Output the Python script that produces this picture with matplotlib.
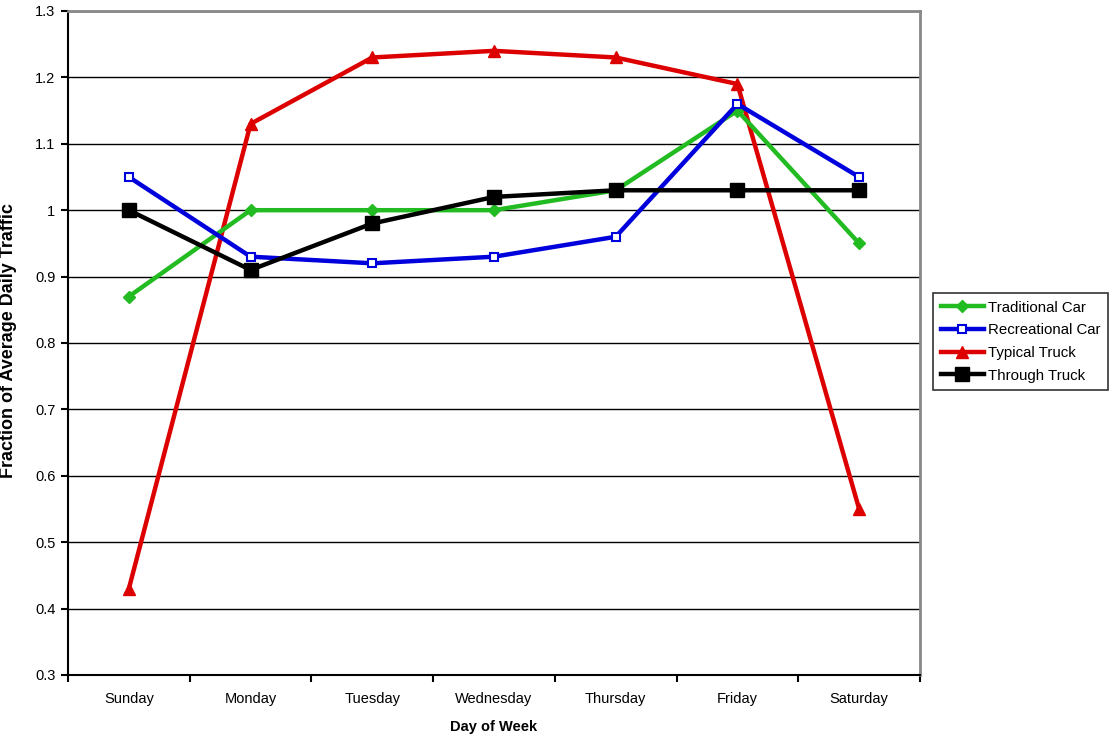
import matplotlib
matplotlib.use("Agg")
import matplotlib.pyplot as plt
from matplotlib.ticker import FixedLocator

days = ["Sunday", "Monday", "Tuesday", "Wednesday", "Thursday", "Friday", "Saturday"]
traditional_car = [0.87, 1.00, 1.00, 1.00, 1.03, 1.15, 0.95]
recreational_car = [1.05, 0.93, 0.92, 0.93, 0.96, 1.16, 1.05]
typical_truck = [0.43, 1.13, 1.23, 1.24, 1.23, 1.19, 0.55]
through_truck = [1.00, 0.91, 0.98, 1.02, 1.03, 1.03, 1.03]
y_ticks = [0.3, 0.4, 0.5, 0.6, 0.7, 0.8, 0.9, 1.0, 1.1, 1.2, 1.3]
y_tick_labels = ["0.3", "0.4", "0.5", "0.6", "0.7", "0.8", "0.9", "1", "1.1", "1.2", "1.3"]

plt.rcParams['font.family'] = ['Liberation Sans', 'DejaVu Sans']

fig = plt.figure(figsize=(11.12, 7.38), dpi=100)
ax = fig.add_axes([68/1112, 63/738, (920-68)/1112, (675-11)/738])

x = list(range(len(days)))
ax.plot(x, traditional_car, color="#22bb22", lw=3.2, marker="D", ms=6, mfc="#22bb22", mec="#22bb22",
        label="Traditional Car", zorder=3)
ax.plot(x, recreational_car, color="#0000dd", lw=3.2, marker="s", ms=6, mfc="white", mec="#0000dd", mew=1.5,
        label="Recreational Car", zorder=4)
ax.plot(x, typical_truck, color="#dd0000", lw=3.2, marker="^", ms=8, mfc="#dd0000", mec="#dd0000",
        label="Typical Truck", zorder=2)
ax.plot(x, through_truck, color="black", lw=3.2, marker="s", ms=10, mfc="black", mec="black",
        label="Through Truck", zorder=5)

ax.set_xlim(-0.5, len(days) - 0.5)
ax.set_ylim(0.3, 1.3)
ax.set_yticks(y_ticks)
ax.set_yticklabels(y_tick_labels)
ax.set_xticks(x)
ax.set_xticklabels(days)
ax.xaxis.set_minor_locator(FixedLocator([i - 0.5 for i in range(len(days) + 1)]))
ax.tick_params(axis="x", which="major", length=0, pad=12, labelsize=10.5)
ax.tick_params(axis="x", which="minor", length=5, width=1.5, direction="out", color="black")
ax.tick_params(axis="y", which="major", length=5, width=1.5, direction="out", labelsize=10.5, pad=4)

ax.yaxis.grid(True, color="black", lw=1)
ax.set_axisbelow(True)
for s in ["left", "bottom"]:
    ax.spines[s].set_color("black")
    ax.spines[s].set_linewidth(1.5)
for s in ["top", "right"]:
    ax.spines[s].set_color("#888888")
    ax.spines[s].set_linewidth(2)

ax.set_xlabel("Day of Week", fontsize=10.5, fontweight="bold", labelpad=10)
fig.text(9/1112, (738-341)/738, "Fraction of Average Daily Traffic", rotation=90,
         fontsize=13, fontweight="bold", ha="center", va="center")

leg = fig.legend(loc="upper left", bbox_to_anchor=(933/1112, (738-293)/738), frameon=True,
                 fancybox=False, edgecolor="black", fontsize=10.8, handlelength=2.9, handletextpad=0.25,
                 borderpad=0.5, labelspacing=0.58, borderaxespad=0)
leg.get_frame().set_linewidth(1.2)

fig.savefig("out.png", dpi=100)
